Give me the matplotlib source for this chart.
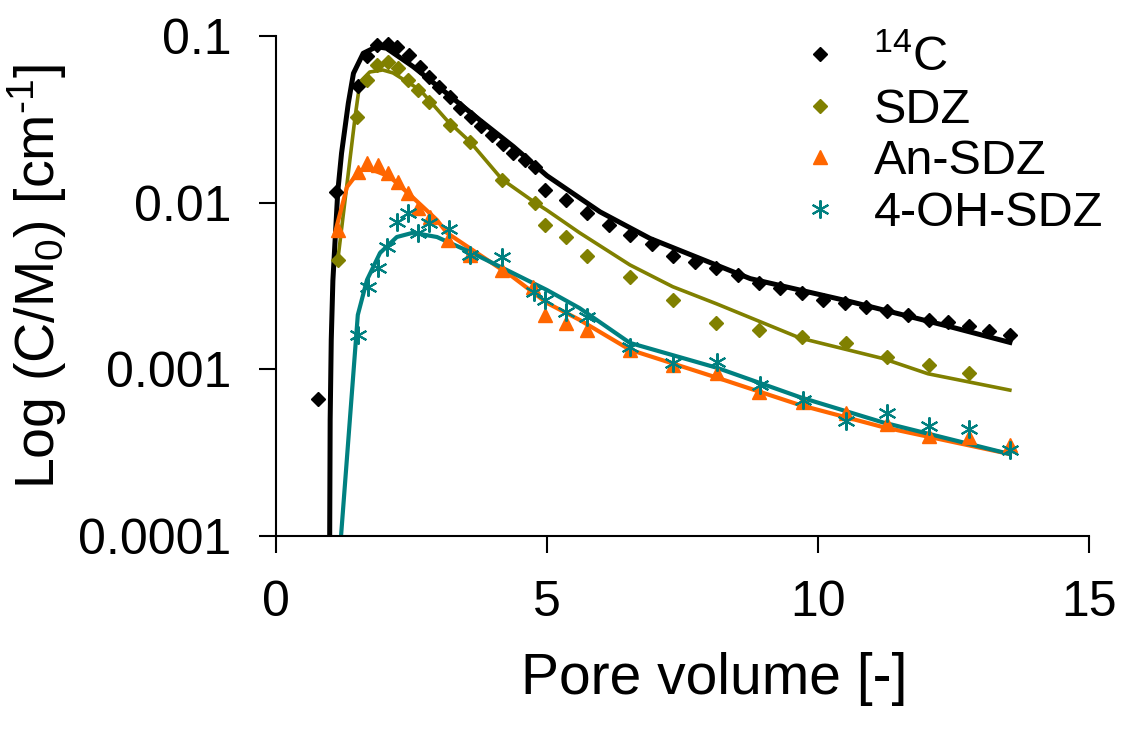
import matplotlib
matplotlib.use("Agg")
import matplotlib.pyplot as plt
from matplotlib.ticker import FixedLocator, FixedFormatter

plt.rcParams['font.family'] = ['Liberation Sans', 'DejaVu Sans']
plt.rcParams['mathtext.fontset'] = 'custom'
plt.rcParams['mathtext.rm'] = 'Liberation Sans'
plt.rcParams['mathtext.it'] = 'Liberation Sans:italic'

# measured data (pore volume, C/M0)
c14_x = [0.775, 1.107, 1.51, 1.68, 1.86, 2.06, 2.23, 2.46, 2.66, 2.83, 3.0, 3.21,
         3.40, 3.6, 3.78, 3.99, 4.19, 4.37, 4.59, 4.78, 4.96, 5.35, 5.74, 6.14,
         6.53, 6.94, 7.32, 7.73, 8.12, 8.52, 8.91, 9.3, 9.7, 10.09, 10.5, 10.89,
         11.27, 11.66, 12.05, 12.4, 12.79, 13.15, 13.54]
c14_y = [0.00066, 0.0116, 0.050, 0.0759, 0.0883, 0.090, 0.086, 0.077, 0.0652,
         0.0568, 0.0494, 0.043, 0.037, 0.0327, 0.0288, 0.0255, 0.0225, 0.0199,
         0.018, 0.0164, 0.0119, 0.0104, 0.00867, 0.00735, 0.0064, 0.00565,
         0.00479, 0.0044, 0.00406, 0.00368, 0.0033, 0.00308, 0.00287, 0.00261,
         0.0025, 0.00237, 0.00224, 0.00212, 0.00198, 0.00192, 0.00182, 0.0017,
         0.00161]

sdz_x = [1.144, 1.49, 1.68, 1.86, 2.06, 2.25, 2.44, 2.62, 2.82, 3.21, 3.58, 4.17,
         4.78, 4.96, 5.35, 5.74, 6.53, 7.32, 8.12, 8.91, 9.7, 10.52, 11.27, 12.05,
         12.79]
sdz_y = [0.00453, 0.0327, 0.0545, 0.067, 0.0698, 0.0643, 0.0545, 0.0474, 0.0402,
         0.0292, 0.0231, 0.0137, 0.00995, 0.00735, 0.00622, 0.00479, 0.00358,
         0.00261, 0.0019, 0.00172, 0.00156, 0.00144, 0.00119, 0.00106, 0.00095]

an_x = [1.144, 1.51, 1.68, 1.88, 2.06, 2.25, 2.44, 2.62, 2.84, 3.17, 3.58, 4.17,
        4.74, 4.96, 5.35, 5.74, 6.53, 7.32, 8.14, 8.91, 9.72, 10.52, 11.27, 12.05,
        12.79, 13.54]
an_y = [0.00686, 0.0153, 0.0173, 0.0168, 0.0151, 0.0133, 0.0114, 0.0093, 0.0082,
        0.006, 0.00486, 0.00394, 0.00312, 0.00212, 0.0019, 0.00172, 0.00131,
        0.00106, 0.00095, 0.00073, 0.00064, 0.00055, 0.00047, 0.0004, 0.00039,
        0.00035]

oh_x = [1.51, 1.70, 1.88, 2.05, 2.23, 2.44, 2.62, 2.82, 3.19, 3.58, 4.17, 4.76,
        4.96, 5.35, 5.74, 6.53, 7.32, 8.14, 8.93, 9.72, 10.52, 11.27, 12.05, 12.79,
        13.54]
oh_y = [0.00161, 0.00312, 0.00406, 0.00542, 0.00766, 0.00867, 0.0066, 0.00755,
        0.00695, 0.00486, 0.00472, 0.00291, 0.00261, 0.00221, 0.00206, 0.00136,
        0.00109, 0.00111, 0.00081, 0.00065, 0.00049, 0.00055, 0.00046, 0.00044,
        0.00033]

# model curves
c14_fit_x = [0.99, 1.0, 1.02, 1.05, 1.14, 1.21, 1.335, 1.43, 1.61, 1.86, 2.04,
             2.53, 3.15, 3.76, 4.38, 5.0, 5.98, 6.9, 8.75, 10.59, 12.44, 13.54]
c14_fit_y = [0.00008, 0.0005, 0.0015, 0.0034, 0.0116, 0.0198, 0.0395, 0.0597,
             0.0787, 0.0863, 0.0844, 0.0655, 0.0453, 0.0313, 0.0217, 0.0145,
             0.0088, 0.0061, 0.0035, 0.00255, 0.0018, 0.00145]

sdz_fit_x = [1.14, 1.46, 1.55, 1.73, 1.97, 2.16, 2.66, 3.15, 3.58, 4.17, 4.78,
             5.0, 5.6, 6.53, 7.32, 8.13, 9.67, 11.2, 12.03, 13.54]
sdz_fit_y = [0.0045, 0.0327, 0.053, 0.0608, 0.0625, 0.06, 0.0474, 0.0313, 0.0232,
             0.0138, 0.0100, 0.0090, 0.0066, 0.00423, 0.00313, 0.00247, 0.00154,
             0.00116, 0.00094, 0.00075]

an_fit_x = [1.09, 1.31, 1.55, 1.79, 2.1, 2.53, 2.97, 3.15, 3.76, 4.37, 5.0, 5.6,
            6.53, 8.14, 9.67, 11.2, 13.54]
an_fit_y = [0.0066, 0.0124, 0.0157, 0.0157, 0.0143, 0.0107, 0.00787, 0.0066,
            0.00486, 0.00358, 0.0025, 0.00198, 0.00131, 0.00089, 0.00061, 0.00045,
            0.00031]

oh_fit_x = [1.19, 1.51, 1.68, 1.92, 2.23, 2.53, 2.97, 3.58, 4.26, 5.0, 5.6, 6.53,
            8.14, 9.67, 11.2, 13.54]
oh_fit_y = [0.00009, 0.00212, 0.00344, 0.00499, 0.00622, 0.0066, 0.00622,
            0.00506, 0.00394, 0.00299, 0.00233, 0.00144, 0.00102, 0.00068,
            0.00048, 0.00031]

y_ticks = [0.0001, 0.001, 0.01, 0.1]
y_labels = ['0.0001', '0.001', '0.01', '0.1']
x_ticks = [0, 5, 10, 15]

fig = plt.figure(figsize=(11.25, 7.31), dpi=100)
ax = fig.add_axes([0.2453, 0.2668, 0.7227, 0.684])

ax.plot(c14_fit_x, c14_fit_y, color='black', lw=3.6, zorder=2)
ax.plot(sdz_fit_x, sdz_fit_y, color='#808000', lw=2.6, zorder=2)
ax.plot(an_fit_x, an_fit_y, color='#FF6600', lw=3.0, zorder=2)
ax.plot(oh_fit_x, oh_fit_y, color='#008080', lw=3.0, zorder=2)

ax.plot(c14_x, c14_y, ls='none', marker='D', ms=7.5, color='black',
        label=r'$\mathregular{^{14}C}$', zorder=3)
ax.plot(sdz_x, sdz_y, ls='none', marker='D', ms=7.5, color='#808000',
        label='SDZ', zorder=3)
ax.plot(an_x, an_y, ls='none', marker='^', ms=10, color='#FF6600',
        label='An-SDZ', zorder=3)
ax.plot(oh_x, oh_y, ls='none', marker=(6, 2, 0), ms=13, mew=1.5, color='#008080',
        label='4-OH-SDZ', zorder=3)

ax.set_yscale('log')
ax.set_ylim(0.0001, 0.1)
ax.set_xlim(0, 15)
ax.yaxis.set_major_locator(FixedLocator(y_ticks))
ax.yaxis.set_major_formatter(FixedFormatter(y_labels))
ax.yaxis.set_minor_locator(FixedLocator([]))
ax.set_xticks(x_ticks)

ax.spines['top'].set_visible(False)
ax.spines['right'].set_visible(False)
ax.spines['left'].set_linewidth(1.5)
ax.spines['bottom'].set_linewidth(1.5)
ax.tick_params(direction='out', length=12, width=1.5, labelsize=36, pad=20)

ax.set_xlabel('Pore volume [-]', fontsize=41)
ax.set_ylabel('Log (C/M$\\mathregular{_0}$) [cm$\\mathregular{^{\u20101}}$]',
              fontsize=40)
ax.xaxis.set_label_coords(0.539, -0.232)
ax.yaxis.set_label_coords(-0.255, 0.52)

ax.legend(loc='upper left', bbox_to_anchor=(0.69, 0.978), bbox_transform=fig.transFigure,
          frameon=False, fontsize=35, handletextpad=0.6, labelspacing=0.14,
          borderaxespad=0, handlelength=1.0)

fig.savefig('out.png', dpi=100)
